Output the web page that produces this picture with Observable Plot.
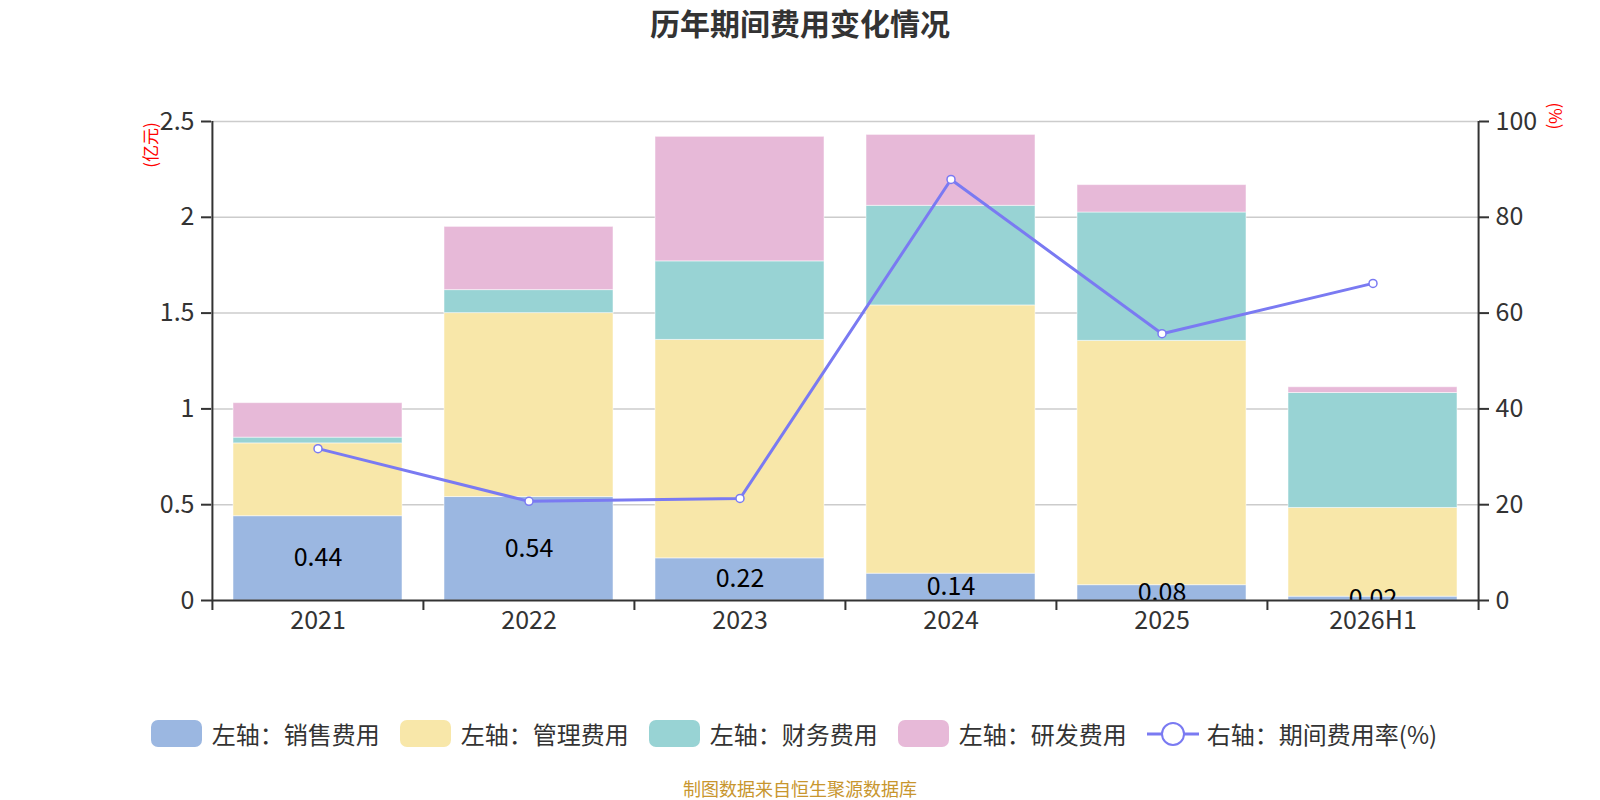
<!DOCTYPE html>
<html>
<head>
<meta charset="utf-8">
<script src="https://cdn.jsdelivr.net/npm/d3@7"></script>
<script src="https://cdn.jsdelivr.net/npm/@observablehq/plot@0.6"></script>
<style>
  body { margin: 0; background: #fff; }
  #wrap { position: relative; width: 1600px; height: 800px; font-family: "Noto Sans CJK SC", "Noto Sans", sans-serif; color: #333; overflow: hidden; background: #fff; }
  #title { position: absolute; left: 0; top: 0; width: 1600px; text-align: center; font-size: 30px; font-weight: bold; line-height: 45px; color: #333; z-index: 2; }
  #chart { position: absolute; left: 0; top: 0; z-index: 1; }
  #legend { position: absolute; left: -6px; top: 716px; width: 1600px; display: flex; justify-content: center; align-items: center; gap: 20px; font-size: 24px; color: #333; z-index: 2; }
  .item { display: flex; align-items: center; }
  .sw { width: 51px; height: 27px; border-radius: 7px; margin-right: 10px; }
  #caption { position: absolute; left: 0; top: 776px; width: 1600px; text-align: center; font-size: 18px; line-height: 24px; color: #c8962e; z-index: 2; }
  .ylab { position: absolute; font-size: 17px; color: #f00; white-space: nowrap; z-index: 2; }
</style>
</head>
<body>
<div id="wrap">
  <div id="chart"></div>
  <div id="title">历年期间费用变化情况</div>
  <div class="ylab" id="ylL">(亿元)</div>
  <div class="ylab" id="ylR">(%)</div>
  <div id="legend"></div>
  <div id="caption">制图数据来自恒生聚源数据库</div>
</div>
<script>
// ---- data ----
const years = ["2021", "2022", "2023", "2024", "2025", "2026H1"];
const seriesNames = ["左轴：销售费用", "左轴：管理费用", "左轴：财务费用", "左轴：研发费用"];
const sales = [0.44, 0.54, 0.22, 0.14, 0.08, 0.02];
const admin = [0.38, 0.96, 1.14, 1.40, 1.275, 0.463];
const finance = [0.03, 0.12, 0.41, 0.52, 0.67, 0.60];
const rnd = [0.18, 0.33, 0.65, 0.37, 0.143, 0.03];
const rate = [31.7, 20.7, 21.3, 87.9, 55.7, 66.2];
const rateName = "右轴：期间费用率(%)";
const leftTicks = [0, 0.5, 1, 1.5, 2, 2.5];

const colors = ["#9bb7e1", "#f8e7a9", "#98d3d4", "#e7b9d8"];
const lineColor = "#7a7af2";

// ---- build tables ----
const seriesValues = [sales, admin, finance, rnd];
const long = [];
seriesNames.forEach((s, si) => years.forEach((y, i) => long.push({year: y, series: s, value: seriesValues[si][i]})));
const rateData = years.map((y, i) => ({year: y, rate: rate[i], sales: sales[i]}));
const ratio = 2.5 / 100; // right axis 0-100 mapped onto left 0-2.5

const W = 1600, H = 700, mL = 211, mR = 122, mT = 121, mB = 100;
const step = (W - mL - mR) / years.length;

const plot = Plot.plot({
  width: W, height: H,
  marginLeft: mL, marginRight: mR, marginTop: mT, marginBottom: mB,
  style: {fontFamily: "'Noto Sans CJK SC', 'Noto Sans', sans-serif", fontSize: "25px", color: "#333", background: "transparent"},
  x: {domain: years, paddingInner: 0.2, paddingOuter: 0.1, axis: null},
  y: {domain: [0, 2.5], axis: null},
  color: {domain: seriesNames, range: colors},
  marks: [
    Plot.gridY(leftTicks.slice(1), {stroke: "#cccccc", strokeOpacity: 1, strokeWidth: 1.5}),
    Plot.barY(long, {x: "year", y: "value", fill: "series", stroke: "#fff", strokeOpacity: 0.5, strokeWidth: 1}),
    Plot.text(rateData, {x: "year", y: d => d.sales / 2, text: d => d3.format(".2f")(d.sales), fill: "#000", fontSize: 25, clip: true}),
    Plot.line(rateData, {x: "year", y: d => d.rate * ratio, stroke: lineColor, strokeWidth: 3}),
    Plot.dot(rateData, {x: "year", y: d => d.rate * ratio, r: 4, fill: "#fff", stroke: lineColor, strokeWidth: 1.5}),
    // axis lines
    Plot.ruleY([0], {stroke: "#333", strokeWidth: 2}),
    Plot.ruleX([years[0]], {y1: 0, y2: 2.5, dx: -step / 2, stroke: "#333", strokeWidth: 2}),
    Plot.ruleX([years[years.length - 1]], {y1: 0, y2: 2.5, dx: step / 2, stroke: "#333", strokeWidth: 2}),
    // left axis
    Plot.axisY({anchor: "left", ticks: leftTicks, tickFormat: d => String(d), tickSize: 10, tickPadding: 7, stroke: "#333", strokeWidth: 2, fill: "#333", fontSize: 25, label: null}),
    // right axis
    Plot.axisY({anchor: "right", ticks: leftTicks, tickFormat: d => String(Math.round(d / ratio)), tickSize: 10, tickPadding: 7, stroke: "#333", strokeWidth: 2, fill: "#333", fontSize: 25, label: null}),
    // x axis labels and boundary ticks
    Plot.axisX({anchor: "bottom", tickSize: 0, tickPadding: 11, fill: "#333", fontSize: 25, label: null}),
    Plot.axisX({anchor: "bottom", ticks: years, tickSize: 10, text: null, dx: -step / 2, stroke: "#333", strokeWidth: 2, label: null}),
    Plot.axisX({anchor: "bottom", ticks: [years[years.length - 1]], tickSize: 10, text: null, dx: step / 2, stroke: "#333", strokeWidth: 2, label: null})
  ]
});
document.getElementById("chart").appendChild(plot);

// axis names
const yl = document.getElementById("ylL");
yl.style.left = "149px"; yl.style.top = "145px";
yl.style.transform = "translate(-50%, -50%) rotate(-90deg)";
const yr = document.getElementById("ylR");
yr.style.left = "1556px"; yr.style.top = "116px";
yr.style.transform = "translate(-50%, -50%) rotate(90deg)";

// legend
const legend = document.getElementById("legend");
seriesNames.forEach((s, i) => {
  const it = document.createElement("div");
  it.className = "item";
  it.innerHTML = `<div class="sw" style="background:${colors[i]}"></div><span>${s}</span>`;
  legend.appendChild(it);
});
const li = document.createElement("div");
li.className = "item";
li.innerHTML = `<svg width="52" height="28" style="margin-right:8px"><line x1="0" y1="14" x2="52" y2="14" stroke="${lineColor}" stroke-width="3"/><circle cx="26" cy="14" r="11" fill="#fff" stroke="${lineColor}" stroke-width="2"/></svg><span>${rateName}</span>`;
legend.appendChild(li);
</script>
</body>
</html>
